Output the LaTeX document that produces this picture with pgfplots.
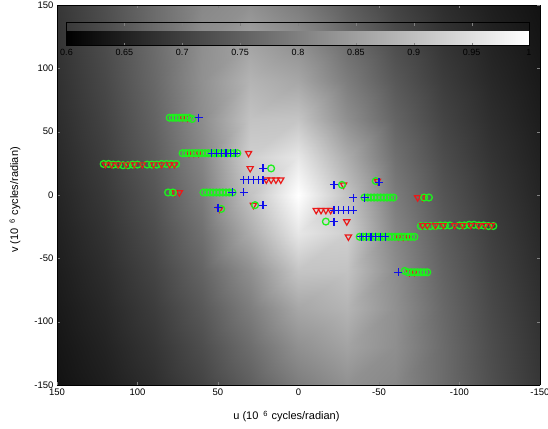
\documentclass[border=0pt]{standalone}
\usepackage{fontspec}
\setmainfont{Liberation Sans}
\usepackage{pgfplots}
\pgfplotsset{compat=1.18}
\usepackage{pgfplotstable}
\definecolor{mgreen}{RGB}{30,240,30}
\definecolor{mred}{RGB}{235,25,25}
\definecolor{mblue}{RGB}{15,15,235}

\pgfplotstableread{
u v z
80 61 1
78 61 1
76 61 1
74 61 1
72 61 1
70 61 1
68 61 1
66 60 1
-80 -61 1
-78 -61 1
-76 -61 1
-74 -61 1
-72 -61 1
-70 -61 1
-68 -61 1
-66 -60 1
72 33 1
70 33 1
68 33 1
66 33 1
64 33 1
62 33 1
60 33 1
58 33 1
56 33 1
54 33 1
52 33 1
50 33 1
48 33 1
46 33 1
44 33 1
42 33 1
40 33 1
38 33 1
-72 -33 1
-70 -33 1
-68 -33 1
-66 -33 1
-64 -33 1
-62 -33 1
-60 -33 1
-58 -33 1
-56 -33 1
-54 -33 1
-52 -33 1
-50 -33 1
-48 -33 1
-46 -33 1
-44 -33 1
-42 -33 1
-40 -33 1
-38 -33 1
121 24.5 1
118 24.5 1
115 24 1
112 24 1
109 23.5 1
106 23.5 1
103 24 1
100 24 1
94 24 1
91 24 1
88 24 1
85 24.5 1
82 24.5 1
79 24.5 1
76 24.5 1
-121 -24.5 1
-118 -24.5 1
-115 -24 1
-112 -24 1
-109 -23.5 1
-106 -23.5 1
-103 -24 1
-100 -24 1
-94 -24 1
-91 -24 1
-88 -24 1
-85 -24.5 1
-82 -24.5 1
-79 -24.5 1
-76 -24.5 1
81 2 1
78 2 1
-81 -2 1
-78 -2 1
59 2 1
57 2 1
55 2 1
53 2 1
51 2 1
49 2 1
47 2 1
45 2 1
43 2 1
41 2 1
-59 -2 1
-57 -2 1
-55 -2 1
-53 -2 1
-51 -2 1
-49 -2 1
-47 -2 1
-45 -2 1
-43 -2 1
-41 -2 1
17 21 1
-17 -21 1
27 -8 1
-27 8 1
48 -11 1
-48 11 1
}\circtable

\pgfplotstableread{
u v z
72 61 1
69 61 1
-72 -61 1
-69 -61 1
68 33 1
65 33 1
62 33 1
31 33 1
-68 -33 1
-65 -33 1
-62 -33 1
-31 -33 1
77 2 1
74 2 1
-77 -2 1
-74 -2 1
30 21 1
-30 -21 1
20 12 1
17 12 1
14 12 1
11 12 1
-20 -12 1
-17 -12 1
-14 -12 1
-11 -12 1
49 -11 1
-49 11 1
28 -8 1
-28 8 1
}\tritable

\pgfplotstableread{
u v z
120 24 1
116 24 1
112 24 1
107 24 1
102 24 1
97 24 1
90 24 1
85 24 1
80 24 1
77 24 1
-120 -24 1
-116 -24 1
-112 -24 1
-107 -24 1
-102 -24 1
-97 -24 1
-90 -24 1
-85 -24 1
-80 -24 1
-77 -24 1
}\tritableC

\pgfplotstableread{
u v z
62 61 1
-62 -61 1
54 33 1
51 33 1
48 33 1
45 33 1
42 33 1
39 33 1
-54 -33 1
-51 -33 1
-48 -33 1
-45 -33 1
-42 -33 1
-39 -33 1
34 12 1
31 12 1
28 12 1
25 12 1
22 12 1
-34 -12 1
-31 -12 1
-28 -12 1
-25 -12 1
-22 -12 1
22 21 1
-22 -21 1
41 2 1
34 2 1
-41 -2 1
-34 -2 1
50 -10 1
-50 10 1
22 -8 1
-22 8 1
}\plustable

\begin{document}
\begin{tikzpicture}
\begin{axis}[
  view={0}{90},
  width=483pt, height=380pt, scale only axis,
  xmin=-150, xmax=150, ymin=-150, ymax=150,
  x dir=reverse,
  enlargelimits=false,
  xtick={-150,-100,-50,0,50,100,150},
  ytick={-150,-100,-50,0,50,100,150},
  ztick=\empty,
  yticklabel pos=right,
  colormap={bw}{gray(0cm)=(0); gray(1cm)=(1)},
  point meta min=0.6, point meta max=1,
  axis on top,
  major tick length=3pt,
  tick label style={font=\fontsize{9.5}{11}\selectfont},
  /pgf/number format/assume math mode=true,
  every axis x label/.style={at={(axis description cs:0.475,-0.082)}, anchor=center},
  every axis y label/.style={at={(axis description cs:-0.087,0.487)}, anchor=center, rotate=90},
  label style={font=\fontsize{11}{13}\selectfont},
  xlabel={u (10\hspace{5pt}\raisebox{0.55ex}{\fontsize{7.5}{8}\selectfont 6}\hspace{4pt}cycles/radian)},
  ylabel={v (10\hspace{5pt}\raisebox{0.55ex}{\fontsize{7.5}{8}\selectfont 6}\hspace{4pt}cycles/radian)},
  colorbar horizontal,
  colorbar style={
    at={(parent axis.north)}, anchor=north, yshift=-9pt, xshift=-0.5pt,
    width=463pt, height=23pt, scale only axis,
    xtick={0.6,0.65,0.7,0.75,0.8,0.85,0.9,0.95,0.9995},
    xticklabels={0.6,0.65,0.7,0.75,0.8,0.85,0.9,0.95,1},
    xticklabel style={font=\fontsize{9}{10}\selectfont, text=black},
    major tick length=3pt,
  },
]
\addplot3[surf, shader=interp, mesh/cols=11, mesh/ordering=x varies] table {
u v w
-150 -150 0.6854
-120 -150 0.7230
-90 -150 0.7687
-60 -150 0.8130
-30 -150 0.8268
0 -150 0.7953
30 -150 0.7480
60 -150 0.7054
90 -150 0.6719
120 -150 0.6467
150 -150 0.6281
-150 -120 0.6811
-120 -120 0.7190
-90 -120 0.7680
-60 -120 0.8234
-30 -120 0.8556
0 -120 0.8260
30 -120 0.7708
60 -120 0.7212
90 -120 0.6828
120 -120 0.6542
150 -120 0.6334
-150 -90 0.6759
-120 -90 0.7131
-90 -90 0.7632
-60 -90 0.8265
-30 -90 0.8823
0 -90 0.8612
30 -90 0.7960
60 -90 0.7383
90 -90 0.6945
120 -90 0.6623
150 -90 0.6390
-150 -60 0.6700
-120 -60 0.7057
-90 -60 0.7551
-60 -60 0.8216
-30 -60 0.9050
0 -60 0.9080
30 -60 0.8235
60 -60 0.7565
90 -60 0.7068
120 -60 0.6708
150 -60 0.6449
-150 -30 0.6639
-120 -30 0.6975
-90 -30 0.7445
-60 -30 0.8098
-30 -30 0.9250
0 -30 0.9620
30 -30 0.8700
60 -30 0.7753
90 -30 0.7196
120 -30 0.6797
150 -30 0.6511
-150 0 0.6575
-120 0 0.6887
-90 0 0.7324
-60 0 0.7937
-30 0 0.9050
0 0 1.0000
30 0 0.9050
60 0 0.7937
90 0 0.7324
120 0 0.6887
150 0 0.6575
-150 30 0.6511
-120 30 0.6797
-90 30 0.7196
-60 30 0.7753
-30 30 0.8700
0 30 0.9620
30 30 0.9250
60 30 0.8098
90 30 0.7445
120 30 0.6975
150 30 0.6639
-150 60 0.6449
-120 60 0.6708
-90 60 0.7068
-60 60 0.7565
-30 60 0.8235
0 60 0.9080
30 60 0.9050
60 60 0.8216
90 60 0.7551
120 60 0.7057
150 60 0.6700
-150 90 0.6390
-120 90 0.6623
-90 90 0.6945
-60 90 0.7383
-30 90 0.7960
0 90 0.8612
30 90 0.8823
60 90 0.8265
90 90 0.7632
120 90 0.7131
150 90 0.6759
-150 120 0.6334
-120 120 0.6542
-90 120 0.6828
-60 120 0.7212
-30 120 0.7708
0 120 0.8260
30 120 0.8556
60 120 0.8234
90 120 0.7680
120 120 0.7190
150 120 0.6811
-150 150 0.6281
-120 150 0.6467
-90 150 0.6719
-60 150 0.7054
-30 150 0.7480
0 150 0.7953
30 150 0.8268
60 150 0.8130
90 150 0.7687
120 150 0.7230
150 150 0.6854
};
\addplot3[only marks, mark=triangle, color=mred, mark size=3.6pt, mark options={rotate=180, line width=1.2pt}] table[x=u, y=v, z=z] {\tritable};
\addplot3[only marks, mark=o, color=mgreen, mark size=3.4pt, mark options={line width=1.3pt}] table[x=u, y=v, z=z] {\circtable};
\addplot3[only marks, mark=triangle, color=mred, mark size=3.4pt, mark options={rotate=180, line width=1pt}] table[x=u, y=v, z=z] {\tritableC};
\addplot3[only marks, mark=+, color=mblue, mark size=4pt, mark options={line width=1.2pt}] table[x=u, y=v, z=z] {\plustable};
\end{axis}
\pgfresetboundingbox
\path[use as bounding box] ([xshift=-57pt,yshift=-43pt]current axis.south west) rectangle ([xshift=8pt,yshift=5pt]current axis.north east);
\end{tikzpicture}
\end{document}
